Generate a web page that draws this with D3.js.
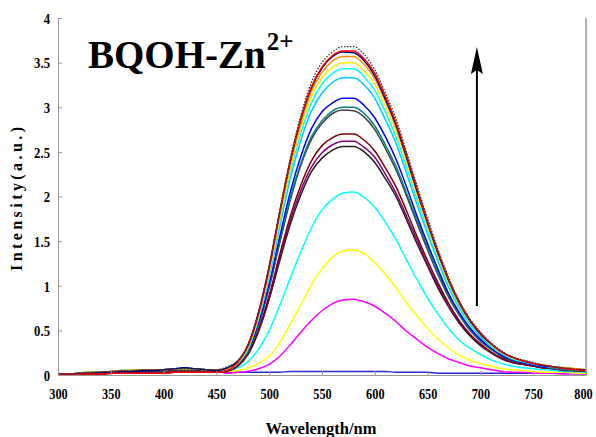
<!DOCTYPE html>
<html><head><meta charset="utf-8">
<script src="https://cdn.jsdelivr.net/npm/d3@7"></script>
<style>
html,body{margin:0;padding:0;background:#fff;}
svg text{font-family:"Liberation Serif","Times New Roman",serif;font-weight:bold;fill:#000;}
</style></head>
<body><svg id="c" width="596" height="437"></svg>
<script>
// ---------- data ----------
const wavelengths = [300,310,320,330,340,350,360,370,380,390,400,410,420,430,440,450,
  460,470,480,490,500,510,520,530,540,550,560,570,580,590,600,610,620,630,640,650,
  660,670,680,690,700,710,720,730,740,750,760,770,780,790,800];
const xTicks = [300,350,400,450,500,550,600,650,700,750,800];
const yTicks = [0,0.5,1,1.5,2,2.5,3,3.5,4];
const yTickLabels = ["0","0.5","1","1.5","2","2.5","3","3.5","4"];

// 300-450 nm region
const lowA = [0.01,0.01,0.02,0.03,0.03,0.04,0.05,0.05,0.06,0.06,0.06,0.07,0.07,0.07,0.06,0.06];
const lowB = [0.00,0.01,0.01,0.01,0.01,0.02,0.02,0.02,0.02,0.02,0.02,0.03,0.03,0.03,0.03,0.03];
const lowC = [0.01,0.01,0.02,0.02,0.03,0.03,0.04,0.04,0.05,0.05,0.06,0.07,0.08,0.07,0.06,0.05];
const lowD = [0.01,0.01,0.01,0.02,0.02,0.03,0.03,0.03,0.04,0.04,0.04,0.05,0.05,0.05,0.04,0.04];

// 460-800 nm region, one per spectrum
const tDotted = [0.09,0.16,0.33,0.70,1.21,1.84,2.43,2.91,3.28,3.50,3.62,3.68,3.68,3.59,3.42,3.16,2.87,2.50,2.12,1.75,1.40,1.09,0.83,0.63,0.48,0.36,0.27,0.20,0.17,0.14,0.11,0.09,0.08,0.07,0.06];
const tRed    = [0.05,0.14,0.33,0.69,1.20,1.82,2.40,2.87,3.23,3.45,3.58,3.63,3.63,3.54,3.38,3.12,2.83,2.47,2.09,1.72,1.38,1.07,0.82,0.62,0.47,0.35,0.26,0.20,0.16,0.13,0.11,0.09,0.07,0.06,0.05];
const tNavy   = [0.08,0.15,0.34,0.71,1.22,1.83,2.40,2.87,3.22,3.44,3.57,3.62,3.61,3.52,3.35,3.09,2.80,2.44,2.06,1.70,1.36,1.06,0.81,0.61,0.46,0.35,0.26,0.20,0.16,0.13,0.10,0.09,0.07,0.06,0.06];
const tOrange = [0.07,0.14,0.32,0.68,1.18,1.79,2.36,2.82,3.18,3.39,3.52,3.57,3.57,3.48,3.32,3.07,2.78,2.43,2.05,1.70,1.36,1.05,0.80,0.61,0.46,0.35,0.26,0.20,0.16,0.13,0.11,0.09,0.08,0.07,0.06];
const tYellow = [0.07,0.14,0.31,0.66,1.15,1.75,2.31,2.77,3.12,3.33,3.45,3.50,3.50,3.41,3.26,3.01,2.73,2.38,2.01,1.66,1.33,1.03,0.79,0.60,0.46,0.34,0.25,0.19,0.16,0.13,0.11,0.09,0.08,0.07,0.06];
const tCyan   = [0.06,0.13,0.30,0.65,1.13,1.71,2.26,2.71,3.05,3.26,3.38,3.43,3.43,3.34,3.19,2.95,2.67,2.33,1.97,1.63,1.30,1.01,0.77,0.58,0.45,0.33,0.25,0.19,0.15,0.13,0.10,0.09,0.07,0.06,0.06];
const tSky    = [0.06,0.13,0.29,0.63,1.10,1.66,2.20,2.63,2.96,3.16,3.28,3.33,3.33,3.25,3.10,2.86,2.60,2.26,1.91,1.58,1.27,0.98,0.75,0.57,0.43,0.32,0.24,0.18,0.15,0.12,0.10,0.08,0.07,0.06,0.05];
const tBlue   = [0.08,0.13,0.28,0.59,1.02,1.55,2.05,2.45,2.76,2.95,3.05,3.10,3.10,3.02,2.88,2.67,2.42,2.11,1.78,1.47,1.18,0.91,0.70,0.53,0.40,0.30,0.22,0.17,0.14,0.11,0.09,0.08,0.07,0.06,0.05];
const tTeal   = [0.06,0.12,0.27,0.57,0.99,1.50,1.98,2.37,2.67,2.85,2.96,3.00,3.00,2.93,2.79,2.58,2.34,2.04,1.73,1.43,1.14,0.89,0.68,0.51,0.39,0.29,0.22,0.17,0.14,0.11,0.09,0.08,0.06,0.05,0.05];
const tGrey   = [0.06,0.12,0.26,0.56,0.98,1.48,1.96,2.35,2.64,2.82,2.93,2.97,2.96,2.89,2.75,2.54,2.30,2.01,1.70,1.40,1.12,0.87,0.67,0.50,0.38,0.29,0.21,0.16,0.13,0.11,0.09,0.07,0.06,0.05,0.05];
const tMaroon = [0.04,0.10,0.24,0.51,0.89,1.35,1.78,2.13,2.40,2.57,2.66,2.70,2.70,2.63,2.51,2.32,2.11,1.84,1.55,1.28,1.03,0.80,0.61,0.46,0.35,0.26,0.19,0.15,0.12,0.10,0.08,0.07,0.06,0.05,0.04];
const tPurple = [0.05,0.10,0.24,0.50,0.86,1.31,1.73,2.07,2.33,2.49,2.58,2.62,2.62,2.55,2.44,2.25,2.04,1.78,1.51,1.24,1.00,0.77,0.59,0.45,0.34,0.25,0.19,0.14,0.12,0.10,0.08,0.07,0.05,0.05,0.04];
const tBlack  = [0.05,0.10,0.23,0.49,0.85,1.28,1.69,2.02,2.28,2.43,2.52,2.56,2.56,2.50,2.38,2.20,2.00,1.74,1.47,1.22,0.97,0.76,0.58,0.44,0.33,0.25,0.18,0.14,0.12,0.10,0.08,0.07,0.05,0.05,0.04];
const tCyan2  = [0.05,0.08,0.15,0.29,0.50,0.78,1.09,1.38,1.65,1.85,1.97,2.04,2.05,1.99,1.88,1.71,1.52,1.29,1.07,0.86,0.68,0.52,0.39,0.30,0.23,0.17,0.13,0.10,0.08,0.07,0.06,0.05,0.04,0.04,0.03];
const tYellow2= [0.04,0.05,0.08,0.13,0.21,0.36,0.57,0.79,1.01,1.19,1.32,1.39,1.40,1.36,1.26,1.13,0.98,0.81,0.66,0.52,0.40,0.30,0.22,0.17,0.13,0.10,0.07,0.06,0.05,0.04,0.03,0.03,0.03,0.02,0.02];
const tMagenta= [0.02,0.03,0.04,0.07,0.12,0.21,0.34,0.48,0.61,0.72,0.80,0.84,0.85,0.82,0.77,0.69,0.60,0.49,0.40,0.31,0.24,0.18,0.14,0.10,0.08,0.06,0.04,0.03,0.03,0.02,0.02,0.02,0.01,0.01,0.01];
const ligandOnly = [0.01,0.01,0.01,0.02,0.02,0.02,0.02,0.02,0.03,0.03,0.03,0.03,0.03,0.03,0.03,0.03,0.03,0.03,0.03,0.03,0.03,0.03,0.04,0.04,0.04,0.04,0.04,0.04,0.04,0.04,0.04,0.04,0.03,0.03,0.03,0.03,0.02,0.02,0.02,0.02,0.02,0.02,0.02,0.02,0.02,0.02,0.02,0.02,0.02,0.02,0.02];

const seriesColors = ["#2a2ad0","#ff00ff","#ffff00","#00ffff","#202020","#800080","#800000","#404040","#008080","#0000ff","#00ccff","#00ffff","#ffee00","#ff8c00","#000080","#ff0000","#333333"];
const seriesValues = [
  ligandOnly,
  lowD.concat(tMagenta),
  lowA.concat(tYellow2),
  lowA.concat(tCyan2),
  lowB.concat(tBlack),
  lowD.concat(tPurple),
  lowB.concat(tMaroon),
  lowD.concat(tGrey),
  lowA.concat(tTeal),
  lowC.concat(tBlue),
  lowA.concat(tSky),
  lowA.concat(tCyan),
  lowA.concat(tYellow),
  lowA.concat(tOrange),
  lowC.concat(tNavy),
  lowB.concat(tRed),
  lowA.concat(tDotted)
];

// ---------- chart ----------
const svg = d3.select("#c");
const L = 58, R = 586, T = 18, B = 375;
const x = d3.scaleLinear().domain([300,800]).range([L,R]);
const y = d3.scaleLinear().domain([0,4]).range([B,T]);
const axisColor = "#999";

// lines
const line = d3.line().x(d=>x(d[0])).y(d=>y(d[1])).curve(d3.curveMonotoneX);
seriesValues.forEach((vals,i)=>{
  const pts = wavelengths.map((w,j)=>[w, vals[j]]);
  svg.append("path").attr("d", line(pts)).attr("fill","none")
    .attr("stroke", seriesColors[i])
    .attr("stroke-width", i===16 ? 1.3 : 1.5)
    .attr("stroke-dasharray", i===16 ? "1.5,1.5" : null);
});

// axes
const xAxis = d3.axisBottom(x).tickValues(xTicks).tickSizeInner(-4).tickSizeOuter(0).tickPadding(13);
const gx = svg.append("g").attr("transform",`translate(0,${B})`).call(xAxis);
const yAxis = d3.axisLeft(y).tickValues(yTicks).tickFormat((d,i)=>yTickLabels[i]).tickSizeInner(-4).tickSizeOuter(0).tickPadding(8);
const gy = svg.append("g").attr("transform",`translate(${L},0)`).call(yAxis);
[gx,gy].forEach(g=>{
  g.select(".domain").attr("stroke",axisColor);
  g.selectAll(".tick line").attr("stroke",axisColor);
  g.selectAll(".tick text").style("font-family","'Liberation Serif',serif").style("font-weight","bold").attr("font-size",15).attr("fill","#000");
});
gy.selectAll(".tick text").attr("dy","0.35em");
// condense labels slightly like the reference
gx.selectAll(".tick text").each(function(){ const w=this.getComputedTextLength(); d3.select(this).attr("textLength",w*0.82).attr("lengthAdjust","spacingAndGlyphs"); });
gy.selectAll(".tick text").each(function(){ const w=this.getComputedTextLength(); d3.select(this).attr("textLength",w*0.85).attr("lengthAdjust","spacingAndGlyphs"); });
gx.selectAll(".tick text").filter(d=>d===800).attr("dx",-3);
// right border
svg.append("line").attr("x1",R).attr("x2",R).attr("y1",y(4)).attr("y2",B).attr("stroke",axisColor).attr("stroke-width",1.5);

// axis titles
svg.append("text").attr("x",321).attr("y",434).attr("text-anchor","middle").attr("font-size",16.5).text("Wavelength/nm");
svg.append("text").attr("transform","translate(22,199) rotate(-90)").attr("text-anchor","middle")
  .attr("font-size",16).attr("textLength",144).attr("lengthAdjust","spacing").text("Intensity(a.u.)");

// title
const title = svg.append("text").attr("x",88).attr("y",68).attr("font-size",39);
title.append("tspan").text("BQOH-Zn");
title.append("tspan").attr("font-size",25).attr("dy",-18).attr("dx",1).text("2+");

// arrow
svg.append("line").attr("x1",x(700)-3.5).attr("x2",x(700)-3.5).attr("y1",306).attr("y2",70)
  .attr("stroke","#000").attr("stroke-width",2);
svg.append("path").attr("d",`M${x(700)-3.5},47 L${x(700)-9.5},74 L${x(700)-3.5},70 L${x(700)+2.5},74 Z`).attr("fill","#000");
</script></body></html>
